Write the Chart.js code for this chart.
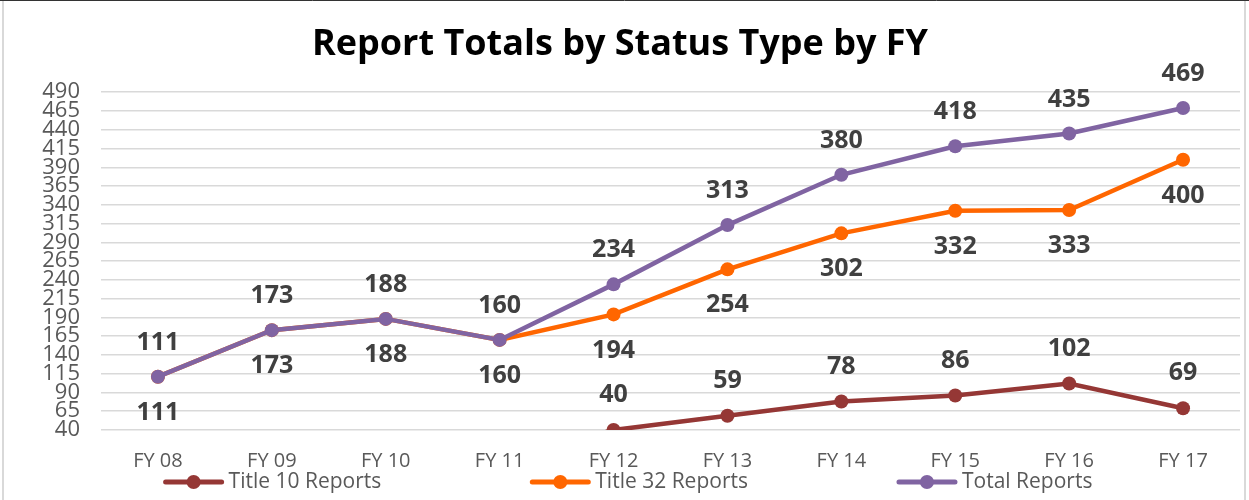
<!DOCTYPE html>
<html>
<head>
<meta charset="utf-8">
<script src="https://cdn.jsdelivr.net/npm/chart.js@4.4.1/dist/chart.umd.min.js"></script>
<style>
  html, body { margin: 0; padding: 0; background: #fff; }
</style>
</head>
<body>
<canvas id="chart" width="1249" height="500"></canvas>
<script>
const years = ['FY 08', 'FY 09', 'FY 10', 'FY 11', 'FY 12', 'FY 13', 'FY 14', 'FY 15', 'FY 16', 'FY 17'];
const title10 = [0, 0, 0, 0, 40, 59, 78, 86, 102, 69];
const title32 = [111, 173, 188, 160, 194, 254, 302, 332, 333, 400];
const totals = [111, 173, 188, 160, 234, 313, 380, 418, 435, 469];
const yTicks = [40, 65, 90, 115, 140, 165, 190, 215, 240, 265, 290, 315, 340, 365, 390, 415, 440, 465, 490];

Chart.defaults.font.family = '"Open Sans", sans-serif';
Chart.defaults.color = '#595959';

// frame around the chart, like the Excel chart box
const frame = {
  id: 'frame',
  beforeDraw(chart) {
    const ctx = chart.ctx;
    ctx.save();
    ctx.fillStyle = '#fff';
    ctx.fillRect(0, 0, chart.width, chart.height);
    ctx.strokeStyle = '#d9d9d9';
    ctx.lineWidth = 2;
    ctx.beginPath();
    ctx.moveTo(3, 0); ctx.lineTo(3, chart.height);
    ctx.moveTo(chart.width - 4, 0); ctx.lineTo(chart.width - 4, chart.height);
    ctx.stroke();
    ctx.strokeStyle = '#333';
    ctx.lineWidth = 1;
    ctx.beginPath();
    ctx.moveTo(0, 0.5); ctx.lineTo(chart.width, 0.5);
    ctx.stroke();
    ctx.restore();
  }
};

// value labels above / below each point
const valueLabels = {
  id: 'valueLabels',
  afterDatasetsDraw(chart) {
    const ctx = chart.ctx;
    const yScale = chart.scales.y;
    ctx.save();
    ctx.font = 'bold 25px "Open Sans"';
    ctx.fillStyle = '#404040';
    ctx.textAlign = 'center';
    ctx.textBaseline = 'middle';
    chart.data.datasets.forEach((ds, i) => {
      const meta = chart.getDatasetMeta(i);
      meta.data.forEach((pt, j) => {
        const v = ds.data[j];
        if (v == null || v < yScale.min) return;
        ctx.fillText(String(v), pt.x, pt.y + ds.labelOffset);
      });
    });
    ctx.restore();
  }
};

// legend with line + dot markers, spread out like Excel's
const lineLegend = {
  id: 'lineLegend',
  afterDraw(chart) {
    const ctx = chart.ctx;
    const sets = chart.data.datasets;
    const markW = 62, gap = 4, itemGap = 148, y = 482;
    ctx.save();
    ctx.font = '21px "Open Sans"';
    const widths = sets.map(ds => markW + gap + ctx.measureText(ds.label).width);
    const total = widths.reduce((a, b) => a + b, 0) + itemGap * (sets.length - 1);
    let x = (chart.width - total) / 2 + 3;
    sets.forEach((ds, i) => {
      ctx.strokeStyle = ds.borderColor;
      ctx.fillStyle = ds.borderColor;
      ctx.lineWidth = 5;
      ctx.lineCap = 'round';
      ctx.beginPath();
      ctx.moveTo(x + 3, y);
      ctx.lineTo(x + markW - 3, y);
      ctx.stroke();
      ctx.beginPath();
      ctx.arc(x + markW / 2, y, 7, 0, Math.PI * 2);
      ctx.fill();
      ctx.fillStyle = '#595959';
      ctx.textAlign = 'left';
      ctx.textBaseline = 'middle';
      ctx.fillText(ds.label, x + markW + gap, y);
      x += widths[i] + itemGap;
    });
    ctx.restore();
  }
};

function lineSet(label, data, color, offset, order) {
  return {
    label,
    data,
    borderColor: color,
    backgroundColor: color,
    borderWidth: 4.5,
    pointRadius: 7,
    pointHoverRadius: 7,
    pointBorderWidth: 0,
    tension: 0,
    labelOffset: offset,
    order
  };
}

new Chart(document.getElementById('chart'), {
  type: 'line',
  data: {
    labels: years,
    datasets: [
      lineSet('Title 10 Reports', title10, '#953735', -35, 2),
      lineSet('Title 32 Reports', title32, '#ff6600', 36, 1),
      lineSet('Total Reports', totals, '#8064a2', -34, 0)
    ]
  },
  options: {
    responsive: false,
    animation: false,
    layout: { padding: { left: 0, right: 9, top: 0, bottom: 14 } },
    plugins: {
      legend: { display: false },
      tooltip: { enabled: false },
      title: {
        display: true,
        text: 'Report Totals by Status Type by FY',
        color: '#000',
        font: { size: 36, weight: 'bold' },
        padding: { top: 23, bottom: 26 }
      }
    },
    scales: {
      x: {
        offset: true,
        grid: { display: false },
        border: { display: false },
        ticks: { font: { size: 20 }, color: '#595959', padding: 11 },
        afterFit(scale) { scale.height = 56; }
      },
      y: {
        min: 40,
        max: 490,
        afterBuildTicks(scale) { scale.ticks = yTicks.map(v => ({ value: v })); },
        afterFit(scale) { scale.width = 101; },
        grid: { color: '#d9d9d9', lineWidth: 1.5, drawTicks: false },
        border: { display: false },
        ticks: { font: { size: 22 }, color: '#595959', padding: 21, autoSkip: false }
      }
    }
  },
  plugins: [frame, valueLabels, lineLegend]
});
</script>
</body>
</html>
